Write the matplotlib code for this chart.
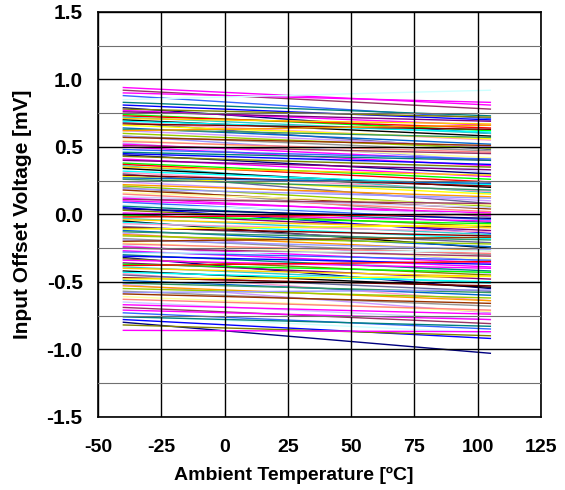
import matplotlib
matplotlib.use('Agg')
import matplotlib.pyplot as plt
from matplotlib.ticker import MultipleLocator, FormatStrFormatter

plt.rcParams['font.family'] = ['Liberation Sans', 'DejaVu Sans']
plt.rcParams['font.weight'] = 'bold'
plt.rcParams['axes.unicode_minus'] = False

# temperature points for every unit
temps = [-40, 105]

# offset voltage (mV) at -40 C and at 105 C, one entry per unit
v_cold = [0.94, 0.92, 0.90, 0.88, 0.85, 0.83, 0.81, 0.79, 0.78, 0.77,
          0.76, 0.74, 0.73, 0.72, 0.71, 0.70, 0.69, 0.68, 0.68, 0.67,
          0.66, 0.64, 0.63, 0.62, 0.62, 0.60, 0.58, 0.58, 0.57, 0.55,
          0.54, 0.53, 0.52, 0.51, 0.50, 0.48, 0.47, 0.46, 0.45, 0.44,
          0.43, 0.41, 0.40, 0.38, 0.37, 0.36, 0.35, 0.34, 0.32, 0.31,
          0.30, 0.29, 0.28, 0.27, 0.26, 0.24, 0.22, 0.21, 0.20, 0.19,
          0.18, 0.16, 0.15, 0.13, 0.12, 0.11, 0.10, 0.09, 0.07, 0.06,
          0.05, 0.04, 0.03, 0.01, 0.00, -0.01, -0.02, -0.03, -0.04, -0.05,
          -0.06, -0.07, -0.09, -0.10, -0.11, -0.12, -0.13, -0.14, -0.15, -0.16,
          -0.18, -0.19, -0.20, -0.21, -0.22, -0.23, -0.24, -0.25, -0.27, -0.28,
          -0.29, -0.30, -0.31, -0.32, -0.33, -0.34, -0.36, -0.37, -0.38, -0.39,
          -0.40, -0.42, -0.43, -0.44, -0.45, -0.47, -0.48, -0.49, -0.51, -0.52,
          -0.53, -0.55, -0.57, -0.58, -0.59, -0.61, -0.63, -0.65, -0.67, -0.69,
          -0.71, -0.73, -0.75, -0.76, -0.78, -0.80, -0.82, -0.86]
v_hot = [0.81, 0.78, 0.83, 0.71, 0.92, 0.73, 0.70, 0.60, 0.72, 0.66,
         0.69, 0.62, 0.64, 0.60, 0.67, 0.58, 0.61, 0.55, 0.48, 0.63,
         0.56, 0.52, 0.57, 0.50, 0.66, 0.49, 0.47, 0.40, 0.51, 0.42,
         0.46, 0.31, 0.40, 0.45, 0.36, 0.41, 0.33, 0.40, 0.37, 0.30,
         0.35, 0.28, 0.33, 0.26, 0.24, 0.16, 0.29, 0.20, 0.22, 0.17,
         0.08, 0.21, 0.15, 0.23, 0.18, 0.10, 0.13, 0.06, -0.02, 0.12,
         0.04, 0.07, 0.02, 0.05, -0.01, 0.08, 0.01, -0.04, 0.00, -0.06,
         -0.14, -0.03, -0.09, -0.05, -0.12, -0.07, 0.00, -0.15, -0.10, -0.25,
         -0.18, -0.13, -0.21, -0.16, -0.08, -0.24, -0.19, -0.35, -0.27, -0.22,
         -0.30, -0.26, -0.17, -0.33, -0.29, -0.44, -0.36, -0.31, -0.39, -0.34,
         -0.27, -0.42, -0.37, -0.55, -0.45, -0.40, -0.48, -0.43, -0.35, -0.51,
         -0.46, -0.54, -0.50, -0.64, -0.57, -0.53, -0.46, -0.60, -0.58, -0.73,
         -0.64, -0.62, -0.68, -0.56, -0.66, -0.72, -0.71, -0.78, -0.74, -0.81,
         -0.78, -0.85, -0.88, -0.83, -0.92, -1.03, -0.90, -0.87]

colors = ['#FF00FF', '#993366', '#FF00FF', '#3366FF', '#CCFFFF', '#008080', '#0000FF',
          '#000080', '#808000', '#FF00FF', '#800080', '#00FF00', '#FF0000', '#33CCCC',
          '#FFCC00', '#000000', '#00FFFF', '#FF99CC', '#666699', '#800000', '#FFFF00',
          '#0066CC', '#339966', '#CC99FF', '#FF9900', '#99CC00', '#969696', '#9999FF',
          '#993300', '#FFFF99', '#FF8080', '#CCCCFF']

fig = plt.figure(figsize=(5.65, 4.9), dpi=100)
ax = fig.add_axes([0.1735, 0.1496, 0.784, 0.826])

for i in range(len(v_cold)):
    ax.plot(temps, [v_cold[i], v_hot[i]], color=colors[i % len(colors)], lw=1.0)

ax.set_xlim(-50, 125)
ax.set_ylim(-1.5, 1.5)
ax.xaxis.set_major_locator(MultipleLocator(25))
ax.yaxis.set_major_locator(MultipleLocator(0.5))
ax.yaxis.set_minor_locator(MultipleLocator(0.25))
ax.yaxis.set_major_formatter(FormatStrFormatter('%.1f'))
ax.grid(which='major', color='#000000', lw=1.0)
ax.grid(which='minor', axis='y', color='#707070', lw=0.8)
ax.set_axisbelow(False)
ax.tick_params(which='both', length=0)
ax.tick_params(axis='x', pad=16, labelsize=14)
ax.tick_params(axis='y', pad=11, labelsize=15)
for s in ax.spines.values():
    s.set_linewidth(1.2)

ax.set_xlabel('Ambient Temperature [ºC]', fontsize=14, fontweight='bold')
ax.xaxis.set_label_coords(0.441, -0.123)
ax.set_ylabel('Input Offset Voltage [mV]', fontsize=15, fontweight='bold')
ax.yaxis.set_label_coords(-0.15, 0.5)

fig.savefig('out.png', dpi=100)
